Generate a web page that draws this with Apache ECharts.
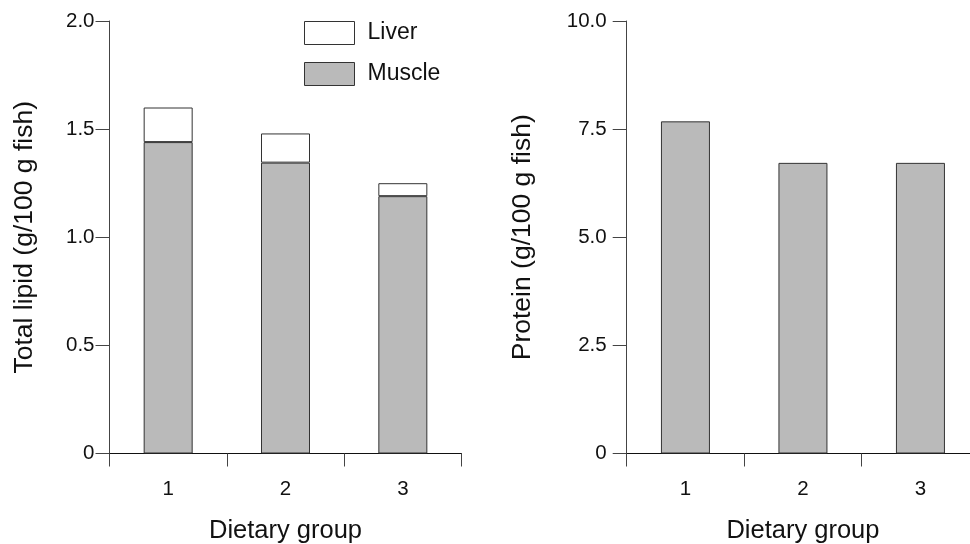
<!DOCTYPE html>
<html>
<head>
<meta charset="utf-8">
<script src="https://cdn.jsdelivr.net/npm/echarts@6/dist/echarts.min.js"></script>
<style>html,body{margin:0;padding:0;background:#fff;}#c{width:970px;height:544px;}</style>
</head>
<body>
<div id="c"></div>
<script>
var categories = ['1', '2', '3'];
var muscleLipid = [1.44, 1.345, 1.19];
var liverLipid = [0.16, 0.135, 0.06];
var protein = [7.68, 6.72, 6.72];
var lipidTicks = { min: 0, max: 2, interval: 0.5 };
var proteinTicks = { min: 0, max: 10, interval: 2.5 };

var FONT = "'Liberation Sans', Arial, sans-serif";
var GRAY = '#bababa';
var EDGE = '#333';

function fmt(v) { return v === 0 ? '0' : v.toFixed(1); }

var chart = echarts.init(document.getElementById('c'), null, { renderer: 'canvas' });

function xAxis(gi) {
  return {
    gridIndex: gi, type: 'category', data: categories,
    axisLine: { show: true, lineStyle: { color: '#111', width: 1 } },
    axisTick: { show: true, length: 13, lineStyle: { color: '#444' } },
    axisLabel: { fontSize: 20.5, color: '#111', margin: 25, fontFamily: FONT },
    name: 'Dietary group', nameLocation: 'middle', nameGap: 64,
    nameTextStyle: { fontSize: 25.5, color: '#111', fontFamily: FONT }
  };
}
function yAxis(gi, t, name, margin, gap) {
  return {
    gridIndex: gi, type: 'value', min: t.min, max: t.max, interval: t.interval,
    axisLine: { show: true, lineStyle: { color: '#444', width: 1 } },
    axisTick: { show: true, length: 14, lineStyle: { color: '#444' } },
    splitLine: { show: false },
    axisLabel: { fontSize: 20.5, color: '#111', margin: margin, fontFamily: FONT, formatter: fmt },
    name: name, nameLocation: 'middle', nameGap: gap, nameRotate: 90,
    nameTextStyle: { fontSize: 26.5, color: '#111', fontFamily: FONT }
  };
}

chart.setOption({
  animation: false,
  backgroundColor: '#fff',
  grid: [
    { left: 109.5, width: 352, top: 21, bottom: 90.5, containLabel: false, outerBoundsMode: 'none' },
    { left: 626.7, width: 352.5, top: 21, bottom: 90.5, containLabel: false, outerBoundsMode: 'none' }
  ],
  legend: {
    orient: 'vertical', left: 304, top: 21, padding: 0,
    itemWidth: 50, itemHeight: 23, itemGap: 17, icon: 'rect',
    textStyle: { fontSize: 23, color: '#111', fontFamily: FONT, padding: [0, 0, 0, 8] },
    data: [
      { name: 'Liver', itemStyle: { color: '#fff', borderColor: EDGE, borderWidth: 1 } },
      { name: 'Muscle', itemStyle: { color: GRAY, borderColor: EDGE, borderWidth: 1 } }
    ]
  },
  xAxis: [xAxis(0), xAxis(1)],
  yAxis: [
    yAxis(0, lipidTicks, 'Total lipid (g/100 g fish)', 15, 71),
    yAxis(1, proteinTicks, 'Protein (g/100 g fish)', 20, 91)
  ],
  series: [
    { name: 'Muscle', type: 'bar', stack: 'lipid', xAxisIndex: 0, yAxisIndex: 0, data: muscleLipid,
      barWidth: 49, itemStyle: { color: GRAY, borderColor: EDGE, borderWidth: 1 } },
    { name: 'Liver', type: 'bar', stack: 'lipid', xAxisIndex: 0, yAxisIndex: 0, data: liverLipid,
      barWidth: 49, itemStyle: { color: '#fff', borderColor: EDGE, borderWidth: 1 } },
    { name: 'Protein', type: 'bar', xAxisIndex: 1, yAxisIndex: 1, data: protein,
      barWidth: 49, itemStyle: { color: GRAY, borderColor: EDGE, borderWidth: 1 } }
  ]
});
</script>
</body>
</html>
